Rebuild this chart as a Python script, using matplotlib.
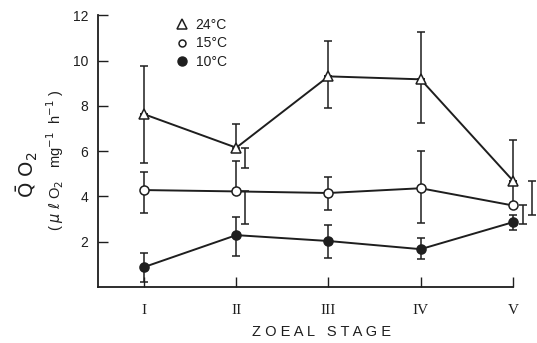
import numpy as np
import matplotlib
matplotlib.use("Agg")
import matplotlib.pyplot as plt
from matplotlib.lines import Line2D

# zoeal stages and mean QO2 (+ upper / lower error limits) per temperature
stages = ["I", "II", "III", "IV", "V"]

q24 = [7.63, 6.15, 9.30, 9.17, 4.70]
q24_hi = [9.78, 7.20, 10.85, 11.25, 6.48]
q24_lo = [5.47, 5.24, 7.90, 7.23, 3.17]

q15 = [4.28, 4.22, 4.15, 4.36, 3.60]
q15_hi = [5.07, 5.55, 4.85, 6.00, 4.70]
q15_lo = [3.26, 2.78, 3.40, 2.82, 2.78]

q10 = [0.88, 2.29, 2.03, 1.67, 2.86]
q10_hi = [1.50, 3.08, 2.73, 2.16, 3.20]
q10_lo = [0.22, 1.37, 1.28, 1.23, 2.50]

# lower bars that the original draws shifted to the right of the point
shifted_24 = [False, True, False, False, True]
shifted_15 = [False, True, False, False, True]

ink = "#1e1e1e"
lw = 1.1
cap = 3

fig = plt.figure(figsize=(5.37, 3.43), dpi=100)
ax = fig.add_axes([0.1825, 0.1633, 0.7725, 0.7923])

x = np.arange(1, len(stages) + 1)


def draw_series(vals, hi, lo, marker, face, shifted=None, dx=0.1):
    vals = np.array(vals)
    hi = np.array(hi)
    lo = np.array(lo)
    if shifted is None:
        shifted = [False] * len(vals)
    shifted = np.array(shifted)
    # upper bars at the point
    ax.errorbar(x, vals, yerr=[np.zeros_like(vals), hi - vals], fmt="none",
                ecolor=ink, elinewidth=lw, capsize=cap, capthick=lw,
                clip_on=False, zorder=2)
    # lower bars at the point
    m = ~shifted
    ax.errorbar(x[m], vals[m], yerr=[vals[m] - lo[m], np.zeros(m.sum())],
                fmt="none", ecolor=ink, elinewidth=lw, capsize=cap,
                capthick=lw, clip_on=False, zorder=2)
    # lower bars shifted to the side
    if shifted.any():
        xs = x[shifted] + (dx if np.isscalar(dx) else np.array(dx)[shifted])
        ax.errorbar(xs, vals[shifted],
                    yerr=[vals[shifted] - lo[shifted], np.zeros(shifted.sum())],
                    fmt="none", ecolor=ink, elinewidth=lw, capsize=cap,
                    capthick=lw, clip_on=False, zorder=2)
    ax.plot(x, vals, color=ink, lw=1.4, marker=marker, markersize=7 if marker == "^" else 6.5,
            markerfacecolor=face, markeredgecolor=ink, markeredgewidth=1.1,
            clip_on=False, zorder=3)


# hide upper bars that are hidden in the original for the shifted ones
draw_series(q24, q24_hi, q24_lo, "^", "white", shifted_24, dx=[0, 0.1, 0, 0, 0.21])
draw_series(q15, q15_hi, q15_lo, "o", "white", shifted_15, dx=[0, 0.1, 0, 0, 0.11])
draw_series(q10, q10_hi, q10_lo, "o", ink)

ax.set_xlim(0.5, 5.0)
ax.set_ylim(0, 12)
ax.set_yticks([2, 4, 6, 8, 10, 12])
ax.set_xticks(x)
ax.set_xticklabels(stages, family="Liberation Serif", fontsize=11)
ax.tick_params(axis="y", direction="in", length=7, width=1, pad=7,
               labelsize=10, colors=ink)
ax.tick_params(axis="x", direction="in", length=7, width=1, pad=12, colors=ink)
for lab in ax.get_yticklabels():
    lab.set_family("Liberation Sans")

for s in ["top", "right"]:
    ax.spines[s].set_visible(False)
for s in ["left", "bottom"]:
    ax.spines[s].set_linewidth(1.3)
    ax.spines[s].set_color(ink)

# legend
handles = [
    Line2D([], [], ls="none", marker="^", markersize=7, mfc="white", mec=ink, mew=1.1),
    Line2D([], [], ls="none", marker="o", markersize=5, mfc="white", mec=ink, mew=1.1),
    Line2D([], [], ls="none", marker="o", markersize=6.5, mfc=ink, mec=ink),
]
leg = ax.legend(handles, ["24°C", "15°C", "10°C"], loc="upper left",
                bbox_to_anchor=(0.155, 1.035), frameon=False, handlelength=1.0,
                handletextpad=0.5, labelspacing=0.3, prop={"family": "Liberation Sans", "size": 10})
for t in leg.get_texts():
    t.set_color(ink)

# axis labels
fig.text(322 / 537, 1 - 332 / 343, "Z O E A L   S T A G E", ha="center", va="center",
         fontsize=10.5, family="Liberation Sans", color=ink)
fig.text(27 / 537, 1 - 175 / 343, r"$\bar{\mathrm{Q}}\ \mathrm{O}_2$", rotation=90,
         ha="center", va="center", fontsize=14, color=ink)
fig.text(55 / 537, 1 - 160 / 343,
         r"( $\mu$ $\ell$ O$_2$   mg$^{-1}$  h$^{-1}$ )", rotation=90,
         ha="center", va="center", fontsize=10.5, family="Liberation Sans", color=ink)

fig.savefig("out.png", dpi=100)
